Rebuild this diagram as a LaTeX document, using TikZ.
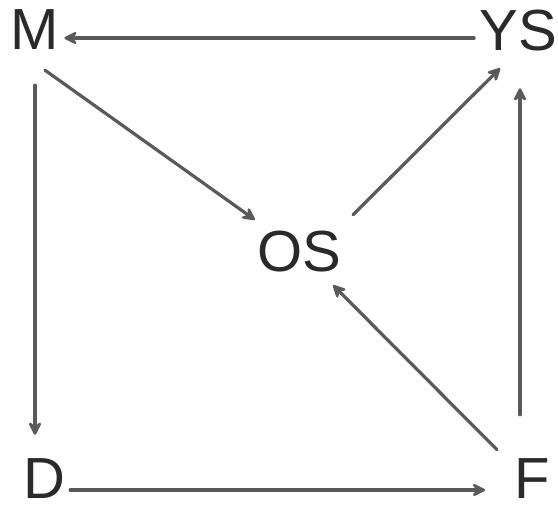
\documentclass[tikz,border=0pt]{standalone}
\usepackage{fontspec}
\setmainfont{Liberation Sans}
\usetikzlibrary{arrows.meta}
\definecolor{ink}{HTML}{2A2A2A}
\definecolor{pen}{HTML}{5A5A5A}
\begin{document}
\begin{tikzpicture}[x=1pt,y=-1pt,
  lbl/.style={inner sep=5pt,text height=42pt,text depth=0pt,text=ink,font=\fontsize{58}{60}\selectfont},
  conn/.style={draw=pen,line width=3.2pt,line cap=round,-{Stealth[length=17pt,width=17pt,inset=7pt,round]}}]
\fill[white] (0,0) rectangle (558,511);
\useasboundingbox (0,0) rectangle (558,511);
\node[lbl] (M) at (35,29) {M};
\node[lbl] (YS) at (518,30) {YS};
\node[lbl] (OS) at (299,251) {OS};
\node[lbl] (D) at (44,477) {D};
\node[lbl] (F) at (532,477) {F};
\draw[conn] ([yshift=-8pt]YS.west) -- ([yshift=-9pt]M.east);
\draw[conn] ([xshift=10pt,yshift=-15pt]M.south) -- ([xshift=3pt,yshift=5pt]OS.north west);
\draw[conn] ([xshift=7pt,yshift=10pt]OS.north east) -- ([xshift=26pt,yshift=-12pt]YS.south west);
\draw[conn] ([xshift=-12pt,yshift=1pt]F.north west) -- ([xshift=-13pt,yshift=-8pt]OS.south east);
\draw[conn] ([xshift=-12pt,yshift=36pt]F.north) -- ([xshift=2pt,yshift=-32pt]YS.south);
\draw[conn] ([yshift=-30pt]M.south) -- ([xshift=-9pt,yshift=16pt]D.north);
\draw[conn] ([yshift=-13pt]D.east) -- ([xshift=-24pt,yshift=-13pt]F.west);
\end{tikzpicture}
\end{document}
